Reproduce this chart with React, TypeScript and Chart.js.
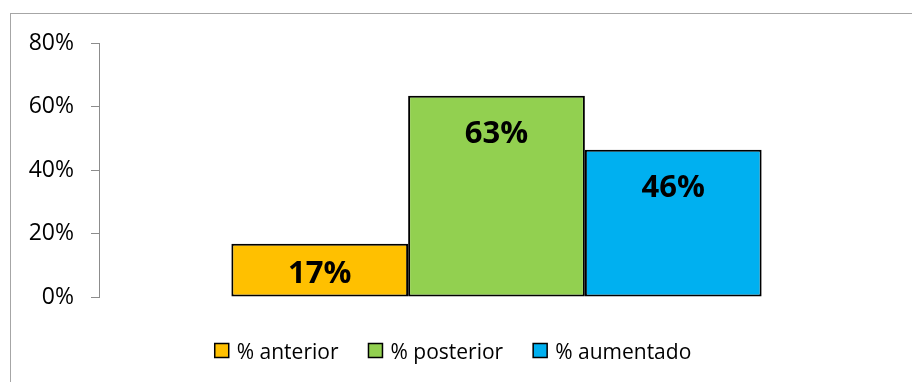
import React, { useEffect, useRef } from "react";
import { Chart, registerables } from "chart.js";

Chart.register(...registerables);

const categories = [""];
const seriesLabels = ["% anterior", "% posterior", "% aumentado"];
const seriesValues = [[16.8], [63.4], [46.4]];
const seriesColors = ["#FFC000", "#92D050", "#00B0F0"];
const yTicks = [0, 20, 40, 60, 80];

const FONT = "'Open Sans', 'Noto Sans', sans-serif";

const valueLabels = {
  id: "valueLabels",
  afterDatasetsDraw(chart: any) {
    const ctx = chart.ctx;
    ctx.save();
    ctx.font = `bold 31px ${FONT}`;
    ctx.fillStyle = "#000";
    ctx.textAlign = "center";
    ctx.textBaseline = "alphabetic";
    chart.data.datasets.forEach((ds: any, i: number) => {
      const meta = chart.getDatasetMeta(i);
      meta.data.forEach((bar: any, j: number) => {
        const v = ds.data[j];
        const capCenter = Math.min(bar.y + 36, bar.base - 25);
        ctx.fillText(Math.round(v) + "%", bar.x, capCenter + 11);
      });
    });
    ctx.restore();
  },
};

const customLegend = {
  id: "customLegend",
  afterDraw(chart: any) {
    const ctx = chart.ctx;
    ctx.save();
    ctx.font = `21px ${FONT}`;
    const box = 14;
    const gapText = 8;
    const gapItem = 30;
    const items = chart.data.datasets.map((ds: any) => ({
      text: ds.label,
      color: ds.backgroundColor,
      w: box + gapText + ctx.measureText(ds.label).width,
    }));
    const total =
      items.reduce((s: number, it: any) => s + it.w, 0) + gapItem * (items.length - 1);
    let x = chart.width / 2 - 3 - total / 2;
    const boxTop = chart.chartArea.bottom + 46.5;
    const baseY = chart.chartArea.bottom + 62;
    items.forEach((it: any) => {
      ctx.fillStyle = it.color;
      ctx.fillRect(x, boxTop, box, box);
      ctx.strokeStyle = "#000";
      ctx.lineWidth = 1.5;
      ctx.strokeRect(x, boxTop, box, box);
      ctx.fillStyle = "#000";
      ctx.textAlign = "left";
      ctx.textBaseline = "alphabetic";
      ctx.fillText(it.text, x + box + gapText, baseY);
      x += it.w + gapItem;
    });
    ctx.restore();
  },
};

export default function App() {
  const ref = useRef<HTMLCanvasElement | null>(null);

  useEffect(() => {
    if (!ref.current) return;
    const chart = new Chart(ref.current, {
      type: "bar",
      data: {
        labels: categories,
        datasets: seriesLabels.map((label, i) => ({
          label,
          data: seriesValues[i],
          backgroundColor: seriesColors[i],
          borderColor: "#000",
          borderWidth: 2,
          borderSkipped: false,
          categoryPercentage: 0.667,
          barPercentage: 1,
        })),
      },
      options: {
        animation: false,
        responsive: false,
        maintainAspectRatio: false,
        layout: { padding: { left: 12, right: 18, top: 43, bottom: 85 } },
        plugins: {
          legend: { display: false },
          tooltip: { enabled: false },
        },
        scales: {
          x: { display: false },
          y: {
            min: yTicks[0],
            max: yTicks[yTicks.length - 1],
            afterFit(scale: any) {
              scale.width = 87;
            },
            afterBuildTicks(scale: any) {
              scale.ticks = yTicks.map((v) => ({ value: v }));
            },
            ticks: {
              padding: 17,
              color: "#000",
              font: { family: FONT, size: 23 },
              callback: (v: any) => v + "%",
            },
            grid: {
              drawOnChartArea: false,
              drawTicks: true,
              tickLength: 8,
              color: "#8c8c8c",
            },
            border: { display: true, color: "#8c8c8c", width: 1 },
          },
        },
      },
      plugins: [valueLabels, customLegend],
    });
    return () => chart.destroy();
  }, []);

  return (
    <div
      style={{
        position: "fixed",
        left: 0,
        top: 0,
        width: 912,
        height: 382,
        overflow: "hidden",
        background: "#fff",
      }}
    >
      <div
        style={{
          position: "absolute",
          left: 10,
          top: 13,
          width: 1000,
          height: 600,
          borderLeft: "1.5px solid #a6a6a6",
          borderTop: "1px solid #a6a6a6",
        }}
      />
      <canvas
        ref={ref}
        width={912}
        height={382}
        style={{ position: "absolute", left: 0, top: 0, width: 912, height: 382 }}
      />
    </div>
  );
}
